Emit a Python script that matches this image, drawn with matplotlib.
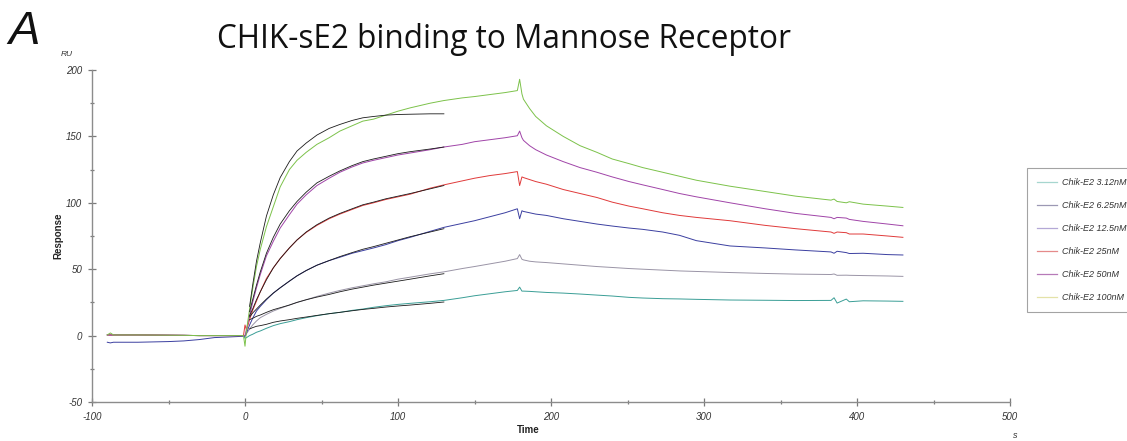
import matplotlib
matplotlib.use("Agg")
import matplotlib.pyplot as plt
from matplotlib.lines import Line2D
from matplotlib.ticker import MultipleLocator

plt.rcParams["axes.unicode_minus"] = False

# ---------------- data ----------------
labels = ["Chik-E2 3.12nM", "Chik-E2 6.25nM", "Chik-E2 12.5nM",
          "Chik-E2 25nM", "Chik-E2 50nM", "Chik-E2 100nM"]

t_base = [-90, -88, -86, -70, -50, -40, -30, -20, -10, -1]
t_assoc = [0, 1, 3, 5, 7.5, 10, 14, 18.5, 23, 29, 34, 40, 47, 55, 62, 70, 77,
           84, 92, 100, 108, 121, 130, 142, 150, 160, 170, 178]
t_diss = [179.5, 181, 182, 186, 190, 197, 208, 219, 230, 240, 251, 260, 273,
          284, 295, 317, 340, 360, 383, 385, 387, 393, 395, 404, 420, 430]
t_fit = [3, 5, 7.5, 10, 14, 18.5, 23, 29, 34, 40, 47, 55, 62, 70, 77, 84, 92,
         100, 108, 121, 130]

# 3.12 nM
base_312 = [0.5, 0.5, 0.5, 0.5, 0.3, 0.2, 0, 0, 0, 0]
assoc_312 = [-2, -1.5, 0, 1, 2.5, 3.5, 5.5, 7.5, 9, 10.5, 12, 13.5, 15, 16.5,
             17.5, 19, 20, 21.3, 22.5, 23.5, 24.3, 25.5, 26.5, 28.5, 30, 31.5,
             33, 34]
diss_312 = [36.5, 33.5, 33.5, 33.3, 33, 32.5, 32, 31.3, 30.5, 29.8, 28.8, 28.3,
            27.8, 27.6, 27.3, 26.8, 26.6, 26.4, 26.5, 28.5, 24.5, 27.5, 25.5,
            26.2, 26, 25.8]
fit_312 = [5, 6, 7, 7.5, 8.5, 10, 11, 12, 13, 14, 15.2, 16.5, 17.5, 18.7,
           19.7, 20.5, 21.5, 22.3, 23, 24.3, 25.3]

# 6.25 nM
base_625 = [0.5, 0.5, 0.5, 0.5, 0.3, 0.2, 0, 0, 0, 0]
assoc_625 = [0, 1.5, 5, 8, 11, 13.5, 16, 18.5, 20.5, 23, 25, 27, 29.5, 32, 34,
             36, 37.5, 39, 40.5, 42.5, 44, 46.5, 48, 50.5, 52, 54, 56, 58]
diss_625 = [61, 57.5, 57, 56, 55.5, 55, 54, 53, 52, 51.3, 50.5, 50, 49.3, 48.7,
            48.3, 47.5, 46.8, 46.3, 46, 46.4, 45.4, 45.5, 45.4, 45.2, 44.9, 44.6]
fit_625 = [12, 13, 14.5, 15.5, 17.5, 19.5, 21, 23, 25, 27, 29, 31, 33, 35,
           36.5, 38, 39.5, 41, 42.5, 45, 46.6]

# 12.5 nM
base_125 = [-5, -5.5, -5, -5, -4.5, -4, -3, -1.5, -1, -0.5]
assoc_125 = [-0.5, 2, 8, 13, 18.5, 22, 27, 32, 36, 41, 45, 49, 53, 56.5, 59,
             62, 64, 66, 68.5, 71.5, 74, 78.5, 81.5, 84.5, 86.5, 89.5, 92.5, 95.5]
diss_125 = [88, 94, 93.5, 92.5, 91.5, 90.5, 88, 86, 84, 82.5, 81, 80, 78, 75.5,
            71.5, 67.5, 66, 64.5, 63, 62, 63.5, 62.5, 61.8, 62, 61, 60.7]
fit_125 = [14, 17, 20, 23, 27.5, 32, 36, 41, 45, 49, 53, 56.5, 59.5, 62.5, 65,
           67, 69.5, 72, 74.5, 78, 80.5]

# 25 nM
base_25 = [0.5, 0.5, 0.5, 0.5, 0.3, 0.2, 0, 0, 0, 0]
assoc_25 = [8, 4, 12, 19, 26, 33, 43, 51, 58, 66, 72, 77.7, 83, 88, 91.5, 95,
            98, 100, 102.5, 104.5, 106.5, 111, 113.5, 116.5, 118.5, 120.5, 122,
            123.5]
diss_25 = [113, 119.5, 119, 117.5, 116, 114, 110, 107, 104, 100.5, 97.5, 95.5,
           92.5, 90.5, 89, 86.5, 83, 80.5, 78, 77, 78, 77.5, 76.5, 76.5, 75, 74]
fit_25 = [15, 20, 27, 33, 42, 51, 58, 66, 72, 78, 83.5, 88.5, 92, 95.5, 98.5,
          100.5, 103, 105, 107, 110.5, 113]

# 50 nM
base_50 = [0.5, 0.5, 0.5, 0.5, 0.3, 0.2, 0, 0, 0, 0]
assoc_50 = [0, 5, 15, 25, 36, 46, 60, 71, 81, 91, 99, 106, 113, 118.5, 123,
            127, 130, 132, 134, 136, 137.5, 140, 142, 144, 146, 147.5, 149,
            150.5]
diss_50 = [154, 149, 147, 143, 140, 136, 131, 126.5, 123, 119.5, 116, 113.5,
           110, 107, 104.5, 100, 95.5, 92, 89, 88, 89, 88.5, 87.5, 86, 84, 82.7]
fit_50 = [18, 27, 38, 48, 62, 74, 84, 94, 101, 108, 115, 120, 124, 128, 131,
          133, 135, 137, 138.5, 140.5, 142]

# 100 nM
base_100 = [0.5, 2, 0.5, 0.5, 0.3, 0.2, 0, 0, 0, 0]
assoc_100 = [-8, 4, 20, 35, 52, 65, 82, 97, 112, 125, 132, 138, 144, 149, 154,
             158, 161.5, 163, 166, 169, 171.5, 175, 177, 179, 180, 181.5, 183,
             184.5]
diss_100 = [193, 182, 178, 171, 165, 158, 150, 143, 138, 133, 129.5, 126.5, 123,
            120, 117, 112.5, 108.5, 105, 102, 102.8, 101, 100, 100.8, 99, 97.5,
            96.5]
fit_100 = [22, 38, 56, 70, 90, 106, 119, 131, 139, 145, 151, 156, 159, 162,
           164, 165, 166, 166.5, 166.7, 167, 167]

bases = [base_312, base_625, base_125, base_25, base_50, base_100]
assocs = [assoc_312, assoc_625, assoc_125, assoc_25, assoc_50, assoc_100]
disss = [diss_312, diss_625, diss_125, diss_25, diss_50, diss_100]
fits = [fit_312, fit_625, fit_125, fit_25, fit_50, fit_100]

colors = ["#3a9e96", "#9a94a6", "#3b3fa0", "#e03a3a", "#a044a8", "#7cc24a"]
legend_colors = ["#a6d6cf", "#9c98b4", "#b4a8d6", "#e58a8a", "#b77ab8", "#e4e2a8"]

# ---------------- figure ----------------
W, H = 1127, 441
fig = plt.figure(figsize=(W / 100, H / 100), dpi=100)
fx = lambda px: px / W
fy = lambda py: 1 - py / H

ax = fig.add_axes([fx(92), fy(402), (1010 - 92) / W, (402 - 70) / H])

for b, a, d, c in zip(bases, assocs, disss, colors):
    ax.plot(t_base + t_assoc + t_diss, b + a + d, color=c, lw=0.7)
for f in fits:
    ax.plot(t_fit, f, color="#1a1a1a", lw=0.6)

ax.set_xlim(-100, 500)
ax.set_ylim(-50, 200)
ax.xaxis.set_major_locator(MultipleLocator(100))
ax.xaxis.set_minor_locator(MultipleLocator(50))
ax.yaxis.set_major_locator(MultipleLocator(50))
ax.yaxis.set_minor_locator(MultipleLocator(25))

for s in ["top", "right"]:
    ax.spines[s].set_visible(False)
for s in ["left", "bottom"]:
    ax.spines[s].set_color("#8c8c8c")
    ax.spines[s].set_linewidth(1.0)

ax.tick_params(which="major", direction="inout", length=6, width=0.9,
               color="#7a7a7a", labelsize=7, labelcolor="#333333", pad=4)
ax.tick_params(which="minor", direction="inout", length=3, width=0.9,
               color="#7a7a7a")
for lab in ax.get_xticklabels() + ax.get_yticklabels():
    lab.set_fontfamily("Liberation Sans")
    lab.set_fontstyle("italic")

# texts
fig.text(fx(67), fy(55), "RU", fontsize=6, style="italic",
         family="Liberation Sans", color="#333333", ha="center", va="center")
fig.text(fx(1015), fy(436), "s", fontsize=6.5, style="italic",
         family="Liberation Sans", color="#333333", ha="center", va="center")
fig.text(fx(58), fy(236), "Response", fontsize=7, weight="bold",
         family="Liberation Sans", color="#222222", rotation=90,
         ha="center", va="center")
fig.text(fx(528), fy(430), "Time", fontsize=7, weight="bold",
         family="Liberation Sans", color="#222222", ha="center", va="center")
fig.text(fx(504), fy(40), "CHIK-sE2 binding to Mannose Receptor",
         fontsize=22.7, family="Open Sans", color="#111111",
         ha="center", va="center")
fig.text(fx(8), fy(32), "A", fontsize=34, style="italic",
         family="Liberation Sans", color="#111111", ha="left", va="center")

handles = [Line2D([], [], color=c, lw=0.9) for c in legend_colors]
leg = fig.legend(handles, labels, loc="upper left",
                 bbox_to_anchor=(fx(1027), fy(168)), borderaxespad=0,
                 frameon=True, fancybox=False, edgecolor="#8c8c8c",
                 handlelength=2.2, handletextpad=0.6,
                 labelspacing=1.55, borderpad=1.1,
                 prop={"family": "Liberation Sans", "style": "italic",
                       "size": 6.5})
leg.get_frame().set_linewidth(0.8)
for t in leg.get_texts():
    t.set_color("#333333")

fig.savefig("out.png", dpi=100)
